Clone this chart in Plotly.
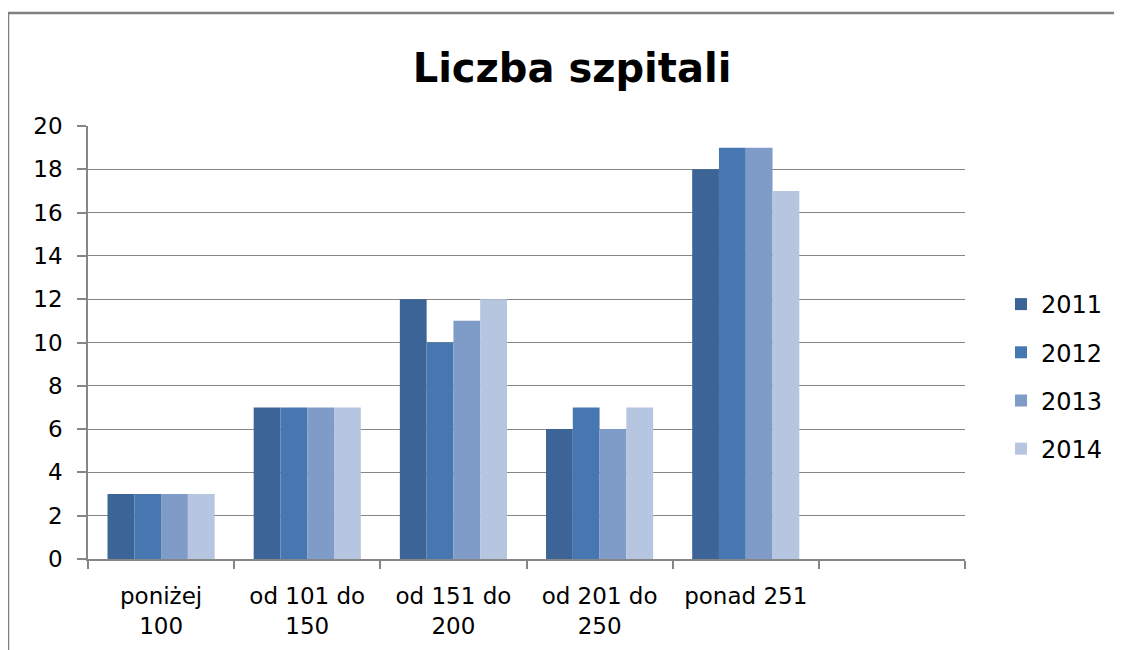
import plotly.graph_objects as go

categories = ["poniżej<br>100", "od 101 do<br>150", "od 151 do<br>200", "od 201 do<br>250", "ponad 251", " "]
years = ["2011", "2012", "2013", "2014"]
v2011 = [3, 7, 12, 6, 18, None]
v2012 = [3, 7, 10, 7, 19, None]
v2013 = [3, 7, 11, 6, 19, None]
v2014 = [3, 7, 12, 7, 17, None]
series = [v2011, v2012, v2013, v2014]
colors = ["#3D6497", "#4777B0", "#7F9BC8", "#B6C5E0"]

FONT = "DejaVu Sans"
fig = go.Figure()
for i, (name, vals) in enumerate(zip(years, series)):
    fig.add_trace(go.Bar(x=categories, y=vals, name=name, marker_color=colors[i],
                         marker_line_width=0, legendgroup=name))

# page has an 8px body margin; figure coordinates are page coords - 8
W, H = 1114, 642
L, T = 80, 118
PR, PB = 957, 551
R, B = W - PR, H - PB
pw, ph = W - L - R, H - T - B

fig.update_layout(
    width=W, height=H,
    margin=dict(l=L, r=R, t=T, b=B),
    paper_bgcolor="white", plot_bgcolor="white",
    bargap=0.267, bargroupgap=0,
    title=dict(text="<b>Liczba szpitali</b>", x=564 / W, xanchor="center", y=1 - 60 / H, yanchor="middle",
               font=dict(family=FONT, size=40, color="black")),
    font=dict(family=FONT, size=23, color="black"),
    legend=dict(x=1 + (993 - PR) / pw, y=1 - (274 - T) / ph, xanchor="left", yanchor="top",
                font=dict(size=24, family=FONT), tracegroupgap=14, bgcolor="rgba(0,0,0,0)"),
    showlegend=True,
)
fig.update_xaxes(showline=True, linecolor="#868686", linewidth=1.5, ticks="outside", ticklen=8,
                 tickcolor="#868686", tickwidth=1.5, tickson="boundaries", showgrid=False,
                 tickfont=dict(size=23, family=FONT), ticklabelstandoff=16)
fig.update_yaxes(range=[0, 20], dtick=2, showline=True, linecolor="#868686", linewidth=1.5,
                 ticks="outside", ticklen=9, tickcolor="#868686", tickwidth=1.5,
                 showgrid=True, gridcolor="#868686", gridwidth=1, zeroline=False,
                 tickfont=dict(size=23, family=FONT), ticklabelstandoff=10)

# outer chart frame (top and left edges visible)
fx = (0 - L) / pw
fy = 1 + (T - 5) / ph
fig.add_shape(type="line", xref="paper", yref="paper", x0=fx, x1=1 + R / pw + 0.02, y0=fy, y1=fy,
              line=dict(color="#808080", width=2.5))
fig.add_shape(type="line", xref="paper", yref="paper", x0=fx, x1=fx, y0=fy, y1=-B / ph - 0.02,
              line=dict(color="#808080", width=2.5))

fig.write_html("out.html")
